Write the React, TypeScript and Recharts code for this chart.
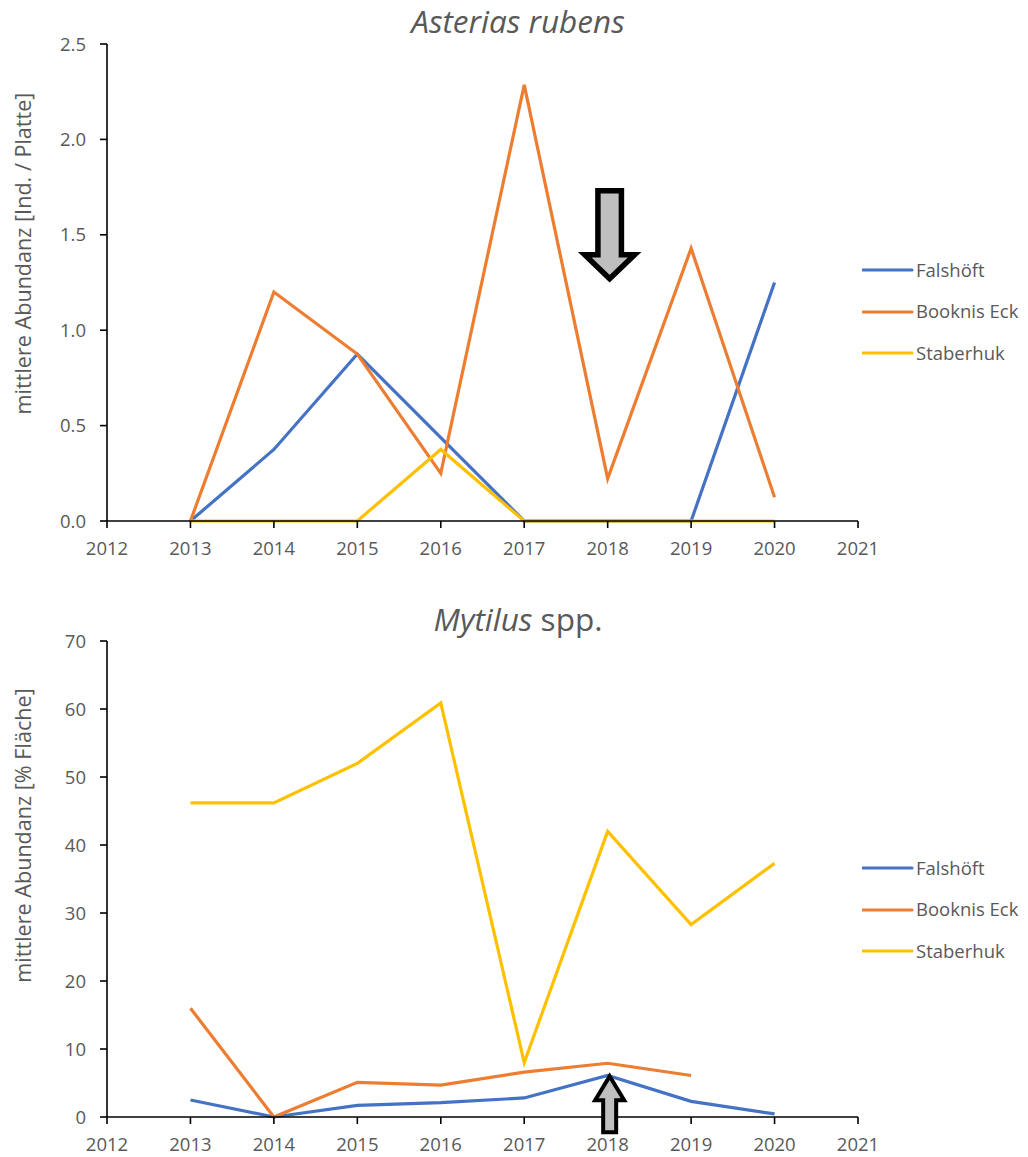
import React from 'react';
import { LineChart, Line, XAxis, YAxis, Legend, ReferenceDot } from 'recharts';

// Survey years and the shared x-axis ticks
const years = [2013, 2014, 2015, 2016, 2017, 2018, 2019, 2020];
const yearTicks = [2012, 2013, 2014, 2015, 2016, 2017, 2018, 2019, 2020, 2021];

// Asterias rubens – mean abundance (individuals per plate)
const asteriasFalshoeft = [0, 0.375, 0.875, 0.4375, 0, 0, 0, 1.25];
const asteriasBooknisEck = [0, 1.2, 0.875, 0.25, 2.286, 0.222, 1.429, 0.125];
const asteriasStaberhuk = [0, 0, 0, 0.375, 0, 0, 0, 0];
const asteriasTicks = [0, 0.5, 1, 1.5, 2, 2.5];

// Mytilus spp. – mean abundance (% cover)
const mytilusFalshoeft = [2.5, 0, 1.7, 2.1, 2.8, 6.1, 2.3, 0.45];
const mytilusBooknisEck = [16.0, 0, 5.1, 4.7, 6.6, 7.9, 6.1, null];
const mytilusStaberhuk = [46.2, 46.2, 52.0, 60.9, 8.0, 42.0, 28.3, 37.3];
const mytilusTicks = [0, 10, 20, 30, 40, 50, 60, 70];

// Marked year and where the arrows point
const markedYear = 2018;
const asteriasArrowTip = 1.27;
const mytilusArrowTip = 6.0;

const siteNames = ['Falshöft', 'Booknis Eck', 'Staberhuk'];
const siteColors = ['#4472C4', '#ED7D31', '#FFC000'];

const FONT = '"Open Sans", sans-serif';
const TEXT = '#595959';

const buildRows = (a: (number | null)[], b: (number | null)[], c: (number | null)[]) =>
  years.map((year, i) => ({ year, s0: a[i], s1: b[i], s2: c[i] }));

const asteriasRows = buildRows(asteriasFalshoeft, asteriasBooknisEck, asteriasStaberhuk);
const mytilusRows = buildRows(mytilusFalshoeft, mytilusBooknisEck, mytilusStaberhuk);

const tickStyle = { fill: TEXT, fontSize: 18.5, fontFamily: FONT };

const LegendBox = ({ rowGap }: { rowGap: number }) => (
  <div style={{ fontFamily: FONT, fontSize: 18.5, color: TEXT }}>
    {siteNames.map((name, i) => (
      <div key={name} style={{ display: 'flex', alignItems: 'center', height: rowGap }}>
        <svg width={54} height={6} style={{ display: 'block' }}>
          <line x1={1} y1={3} x2={50} y2={3} stroke={siteColors[i]} strokeWidth={3.2} strokeLinecap="round" />
        </svg>
        <span style={{ lineHeight: 1, whiteSpace: 'nowrap' }}>{name}</span>
      </div>
    ))}
  </div>
);

const axisLabel = (text: string, dy: number) => (props: any) => {
  const vb = props.viewBox || {};
  const cx = (vb.x ?? 0) + 22;
  const cy = (vb.y ?? 0) + (vb.height ?? 0) / 2 + dy;
  return (
    <text
      x={cx}
      y={cy}
      transform={`rotate(-90, ${cx}, ${cy})`}
      textAnchor="middle"
      dominantBaseline="central"
      fill={TEXT}
      fontSize={21.6}
      fontFamily={FONT}
    >
      {text}
    </text>
  );
};

// Hollow-outlined grey block arrow pointing down, tip at (cx, cy)
const DownArrow = (props: any) => {
  const { cx, cy } = props;
  const x = cx + 2;
  const d = `M${x},${cy} L${x - 25},${cy - 24} L${x - 11.75},${cy - 24} L${x - 11.75},${cy - 88} L${x + 11.75},${cy - 88} L${x + 11.75},${cy - 24} L${x + 25},${cy - 24} Z`;
  return <path d={d} fill="#BFBFBF" stroke="#000" strokeWidth={5.5} strokeLinejoin="miter" strokeMiterlimit={10} />;
};

// Smaller block arrow pointing up, tip at (cx, cy)
const UpArrow = (props: any) => {
  const { cx, cy } = props;
  const x = cx + 2;
  const d = `M${x},${cy} L${x + 14.5},${cy + 24} L${x + 6.5},${cy + 24} L${x + 6.5},${cy + 56} L${x - 6.5},${cy + 56} L${x - 6.5},${cy + 24} L${x - 14.5},${cy + 24} Z`;
  return <path d={d} fill="#BFBFBF" stroke="#000" strokeWidth={4} strokeLinejoin="miter" strokeMiterlimit={10} />;
};

type PanelProps = {
  rows: any[];
  yDomain: [number, number];
  yTicks: number[];
  yFormat: (v: number) => string;
  yLabel: string;
  yLabelShift: number;
  marginTop: number;
  marginBottom: number;
  height: number;
  legendTop: number;
  arrow: React.ReactNode;
};

const Panel = (p: PanelProps) => (
  <LineChart
    width={1028}
    height={p.height}
    data={p.rows}
    margin={{ top: p.marginTop, right: 170, bottom: p.marginBottom, left: 0 }}
  >
    <XAxis
      dataKey="year"
      type="number"
      domain={[2012, 2021]}
      ticks={yearTicks}
      allowDecimals={false}
      tick={tickStyle}
      tickSize={7}
      tickMargin={14}
      height={40}
      stroke="#000"
      strokeWidth={1.6}
      tickLine={{ stroke: '#000', strokeWidth: 1.6 }}
    />
    <YAxis
      type="number"
      domain={p.yDomain}
      ticks={p.yTicks}
      tickFormatter={p.yFormat}
      tick={tickStyle}
      tickSize={7}
      tickMargin={14}
      width={107}
      stroke="#000"
      strokeWidth={1.6}
      tickLine={{ stroke: '#000', strokeWidth: 1.6 }}
      label={{ content: axisLabel(p.yLabel, p.yLabelShift) } as any}
    />
    <Legend
      layout="vertical"
      align="center"
      verticalAlign="middle"
      wrapperStyle={{ left: 862, top: p.legendTop, width: 166, height: 'auto' }}
      content={() => <LegendBox rowGap={41.7} />}
    />
    {[0, 1, 2].map((i) => (
      <Line
        key={i}
        dataKey={`s${i}`}
        name={siteNames[i]}
        type="linear"
        stroke={siteColors[i]}
        strokeWidth={3.2}
        dot={false}
        activeDot={false}
        connectNulls={false}
        isAnimationActive={false}
      />
    ))}
    {p.arrow}
  </LineChart>
);

const titleStyle: React.CSSProperties = {
  position: 'absolute',
  left: 0,
  width: 1036,
  textAlign: 'center',
  fontFamily: FONT,
  fontSize: 31.5,
  lineHeight: 1,
  color: TEXT,
  zIndex: 2,
};

export default function App() {
  return (
    <div style={{ position: 'absolute', left: 0, top: 0, width: 1028, height: 1157, background: '#fff' }}>
      <div style={{ ...titleStyle, top: 5, fontStyle: 'italic' }}>Asterias rubens</div>
      <div style={{ position: 'absolute', left: 0, top: 0 }}>
        <Panel
          rows={asteriasRows}
          yDomain={[0, 2.5]}
          yTicks={asteriasTicks}
          yFormat={(v) => v.toFixed(1)}
          yLabel="mittlere Abundanz [Ind. / Platte]"
          yLabelShift={-29}
          marginTop={44}
          marginBottom={17}
          height={578}
          legendTop={249}
          arrow={
            <ReferenceDot
              x={markedYear}
              y={asteriasArrowTip}
              ifOverflow="visible"
              shape={<DownArrow />}
            />
          }
        />
      </div>
      <div style={{ ...titleStyle, top: 578 + 24.5 }}>
        <i>Mytilus</i> spp.
      </div>
      <div style={{ position: 'absolute', left: 0, top: 578 }}>
        <Panel
          rows={mytilusRows}
          yDomain={[0, 70]}
          yTicks={mytilusTicks}
          yFormat={(v) => String(v)}
          yLabel="mittlere Abundanz [% Fläche]"
          yLabelShift={-43.5}
          marginTop={63}
          marginBottom={0}
          height={579}
          legendTop={269}
          arrow={
            <ReferenceDot
              x={markedYear}
              y={mytilusArrowTip}
              ifOverflow="visible"
              shape={<UpArrow />}
            />
          }
        />
      </div>
    </div>
  );
}
